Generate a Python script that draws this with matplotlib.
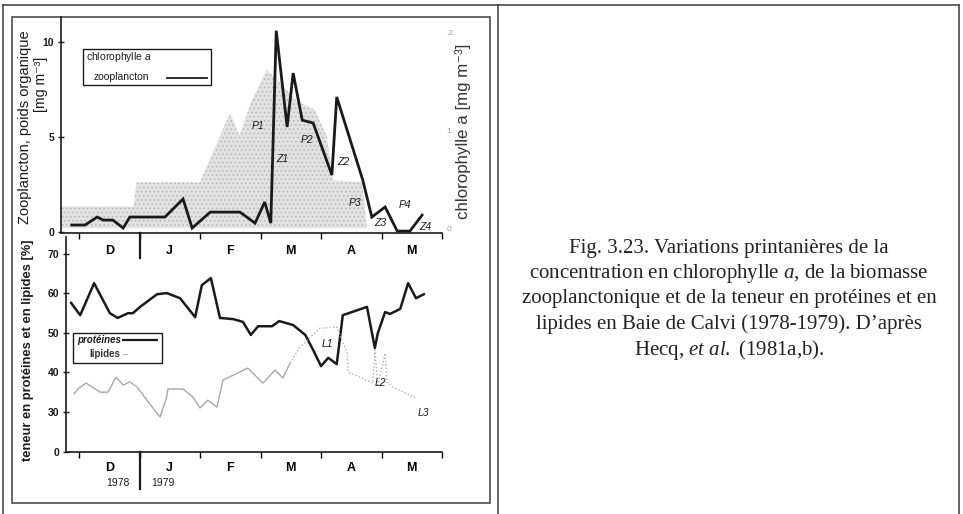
import numpy as np
import matplotlib
matplotlib.use("Agg")
import matplotlib.pyplot as plt
from matplotlib.lines import Line2D
from matplotlib.patches import Rectangle

plt.rcParams['font.family'] = ['Liberation Sans', 'DejaVu Sans']
plt.rcParams['mathtext.fontset'] = 'custom'
plt.rcParams['mathtext.rm'] = 'Liberation Serif'
plt.rcParams['mathtext.it'] = 'Liberation Serif:italic'
plt.rcParams['mathtext.sf'] = 'Liberation Sans:italic'
plt.rcParams['hatch.linewidth'] = 0.6

# time axis in months, 0 = 1 Dec 1978 ... 6 = 1 Jun 1979
months = ['D', 'J', 'F', 'M', 'A', 'M']
years = ['1978', '1979']

# zooplancton, poids organique [mg m-3]
zoo_t = [-0.12, 0.10, 0.30, 0.40, 0.56, 0.73, 0.84, 1.42, 1.72, 1.87, 2.17, 2.66,
         2.91, 3.07, 3.17, 3.26, 3.44, 3.54, 3.69, 3.87, 4.18, 4.26, 4.69, 4.84,
         5.06, 5.26, 5.47, 5.67]
zoo = [0.37, 0.37, 0.79, 0.63, 0.63, 0.21, 0.79, 0.79, 1.74, 0.21, 1.05, 1.05,
       0.47, 1.58, 0.47, 10.6, 5.53, 8.37, 5.89, 5.74, 3.00, 7.11, 2.74, 0.79,
       1.32, 0.05, 0.05, 0.89]

# chlorophylle a [mg m-3]
chl_t = [-0.30, 0.90, 0.95, 2.00, 2.30, 2.50, 2.65, 2.85, 3.10, 3.30, 3.60, 3.90,
         4.10, 4.20, 4.68, 4.76]
chl = [0.22, 0.22, 0.47, 0.47, 0.90, 1.18, 0.95, 1.30, 1.62, 1.50, 1.30, 1.21,
       0.93, 0.49, 0.47, 0.0]

# teneur en proteines [%]
prot_t = [-0.13, 0.02, 0.25, 0.51, 0.64, 0.81, 0.89, 1.01, 1.29, 1.45, 1.67, 1.92,
          2.03, 2.18, 2.33, 2.55, 2.71, 2.84, 2.96, 3.19, 3.31, 3.54, 3.74, 3.87,
          4.00, 4.12, 4.26, 4.36, 4.76, 4.89, 4.94, 5.06, 5.14, 5.31, 5.44, 5.57, 5.70]
prot = [57.5, 54.4, 62.5, 54.9, 53.7, 54.9, 54.9, 56.5, 59.7, 60.0, 58.7, 53.9,
        62.0, 63.8, 53.7, 53.4, 52.7, 49.4, 51.6, 51.6, 52.9, 51.9, 49.4, 45.6,
        41.5, 43.6, 42.0, 54.4, 56.5, 46.1, 49.9, 55.2, 54.7, 56.0, 62.5, 58.7, 59.7]

# teneur en lipides [%]
lip_t = [-0.08, 0.00, 0.12, 0.35, 0.48, 0.61, 0.73, 0.84, 0.96, 1.12, 1.34, 1.45,
         1.47, 1.72, 1.88, 2.00, 2.13, 2.28, 2.38, 2.55, 2.79, 3.04, 3.24, 3.37,
         3.49, 3.65, 3.98, 4.26, 4.43, 4.45, 4.60, 4.86, 4.89, 4.94, 5.06, 5.09,
         5.19, 5.39, 5.59]
lip = [34.5, 36.0, 37.2, 34.9, 34.9, 38.7, 36.7, 37.5, 36.2, 32.9, 28.6, 33.7,
       35.7, 35.7, 33.7, 30.9, 32.9, 31.1, 38.0, 39.2, 41.0, 37.2, 40.5, 38.5,
       42.3, 46.3, 51.1, 51.4, 44.8, 40.0, 39.0, 37.2, 45.6, 36.7, 44.8, 37.5,
       36.2, 34.7, 33.4]

top_labels = [('P1', 2.96, 5.58), ('Z1', 3.36, 3.84), ('P2', 3.77, 4.84),
              ('Z2', 4.36, 3.68), ('P3', 4.56, 1.53), ('Z3', 4.98, 0.47),
              ('P4', 5.39, 1.42), ('Z4', 5.72, 0.26)]
bot_labels = [('L1', 4.10, 47.1), ('L2', 4.98, 37.2), ('L3', 5.69, 29.6)]

W, H = 963, 514
fig = plt.figure(figsize=(W / 100, H / 100), dpi=100)
fig.patch.set_facecolor('white')


def fx(x):
    return x / W


def fy(y):
    return 1 - y / H


def axes_px(l, t, r, b):
    return fig.add_axes([l / W, 1 - b / H, (r - l) / W, (b - t) / H])


def month_of(x):
    return (x - 79) / 60.5


ink = '#1a1a1a'

# ---- top panel: zooplancton + chlorophylle
ax = axes_px(61, 17, 442, 233)
ax2 = ax.twinx()
ax2.fill_between(chl_t, 0, chl, facecolor='#e2e2e2', edgecolor='#b4b4b4',
                 hatch='....', linewidth=0)
ax2.set_ylim(-0.05, 2.16)
ax2.set_yticks([0, 1, 2], ['0', '1.', '.2.'], color='#9a9a9a', fontsize=6)
ax2.tick_params(axis='y', length=0, pad=3)
for s in ax2.spines.values():
    s.set_visible(False)

ax.set_zorder(ax2.get_zorder() + 1)
ax.patch.set_visible(False)
ax.plot(zoo_t, zoo, color=ink, lw=2.0, solid_joinstyle='miter')
ax.set_xlim(month_of(61), 6.0)
ax.set_ylim(-0.05, 11.32)
ax.set_yticks([0, 5, 10], ['0', '5', '10'], fontsize=7.5, fontweight='semibold')
ax.tick_params(axis='y', direction='inout', length=4, width=1, pad=3, colors=ink)
ax.set_xticks(range(7), [''] * 7)
ax.set_xticks(np.arange(6) + 0.5, months, minor=True, fontsize=9, fontweight='bold')
ax.tick_params(axis='x', which='major', direction='out', length=4, width=1)
ax.tick_params(axis='x', which='minor', length=0, pad=9)
for side in ['top', 'right']:
    ax.spines[side].set_visible(False)
for side in ['left', 'bottom']:
    ax.spines[side].set_linewidth(1.2)
    ax.spines[side].set_color(ink)
ax.axvline(1.0, ymin=-0.115, ymax=0, color=ink, lw=1.6, clip_on=False)
for lab, t, v in top_labels:
    ax.text(t, v, lab, fontsize=7.5, style='italic', ha='center', va='center', color=ink)

# legend top
fig.add_artist(Rectangle((fx(83), fy(85)), (211 - 83) / W, (85 - 49) / H,
                         transform=fig.transFigure, fill=False, lw=1.0, ec=ink))
fig.text(fx(86), fy(57), r'chlorophylle $\mathsf{a}$', fontsize=7.5, va='center', color=ink)
fig.text(fx(94), fy(77), 'zooplancton', fontsize=7.5, va='center', color=ink)
fig.add_artist(Line2D([fx(167), fx(207)], [fy(78), fy(78)], color=ink, lw=1.3))

fig.text(fx(25), fy(127), 'Zooplancton, poids organique', rotation=90, fontsize=10.5,
         ha='center', va='center', color=ink)
fig.text(fx(41), fy(84), '[mg m⁻³]', rotation=90, fontsize=10.2,
         ha='center', va='center', color=ink)
fig.text(fx(463), fy(131), 'chlorophylle a [mg m⁻³]', rotation=90, fontsize=12.2,
         ha='center', va='center', color='#333333')

# ---- bottom panel: proteines + lipides
bx = axes_px(66, 237, 442, 452)
bx.plot(prot_t, prot, color=ink, lw=1.8)
lt = np.array(lip_t)
lv = np.array(lip)
solid = lt <= 3.49
dotted = lt >= 3.49
bx.plot(lt[solid], lv[solid], color='#a8a8a8', lw=1.0)
bx.plot(lt[dotted], lv[dotted], color='#b0b0b0', lw=1.0, ls=(0, (1, 1.5)))
bx.set_xlim(month_of(66), 6.0)
bx.set_ylim(19.75, 74.2)
bx.set_yticks([19.75, 30, 40, 50, 60, 70], ['0', '30', '40', '50', '60', '70'],
              fontsize=7.5, fontweight='semibold')
bx.tick_params(axis='y', direction='inout', length=4, width=1, pad=3, colors=ink)
bx.set_xticks(range(7), [''] * 7)
bx.set_xticks(np.arange(6) + 0.5, months, minor=True, fontsize=9, fontweight='bold')
bx.tick_params(axis='x', which='major', direction='out', length=4, width=1)
bx.tick_params(axis='x', which='minor', length=0, pad=7)
for side in ['top', 'right']:
    bx.spines[side].set_visible(False)
for side in ['left', 'bottom']:
    bx.spines[side].set_linewidth(1.2)
    bx.spines[side].set_color(ink)
bx.axvline(1.0, ymin=-0.17, ymax=0, color=ink, lw=1.6, clip_on=False)
for lab, t, v in bot_labels:
    bx.text(t, v, lab, fontsize=7.5, style='italic', ha='center', va='center', color=ink)
bx.text(0.64, -0.145, years[0], transform=bx.get_xaxis_transform(), fontsize=7.5,
        ha='center', va='center', color=ink)
bx.text(1.38, -0.145, years[1], transform=bx.get_xaxis_transform(), fontsize=7.5,
        ha='center', va='center', color=ink)

# legend bottom
fig.add_artist(Rectangle((fx(73), fy(363)), (162 - 73) / W, (363 - 333) / H,
                         transform=fig.transFigure, fill=False, lw=1.0, ec=ink))
fig.text(fx(77), fy(340), 'protéines', fontsize=7, fontweight='semibold',
         style='italic', va='center', color=ink)
fig.add_artist(Line2D([fx(123), fx(157)], [fy(340), fy(340)], color=ink, lw=1.6))
fig.text(fx(89), fy(354), 'lipides', fontsize=7, fontweight='semibold',
         va='center', color='#333333')
fig.add_artist(Line2D([fx(123), fx(127)], [fy(354), fy(354)], color='#b0b0b0', lw=0.8))

fig.text(fx(28), fy(350), 'teneur en protéines et en lipides [%]', rotation=90,
         fontsize=9.3, fontweight='semibold', ha='center', va='center', color=ink)

# ---- frames
frame_kw = dict(transform=fig.transFigure, color='#3a3a3a', lw=1.1)
fig.add_artist(Line2D([fx(3), fx(959)], [fy(5), fy(5)], **frame_kw))
fig.add_artist(Line2D([fx(3), fx(3)], [fy(5), 0], **frame_kw))
fig.add_artist(Line2D([fx(959), fx(959)], [fy(5), 0], **frame_kw))
fig.add_artist(Line2D([fx(498), fx(498)], [fy(5), 0], **frame_kw))
fig.add_artist(Rectangle((fx(12), fy(503)), (490 - 12) / W, (503 - 17) / H,
                         transform=fig.transFigure, fill=False, lw=1.1, ec='#3a3a3a'))

# ---- caption
caption = ['Fig. 3.23. Variations printanières de la',
           'concentration en chlorophylle $a$, de la biomasse',
           'zooplanctonique et de la teneur en protéines et en',
           'lipides en Baie de Calvi (1978-1979). D’après',
           r'Hecq, $et\ al.$ (1981a,b).']
for i, line in enumerate(caption):
    fig.text(fx(729), fy(248 + 25.5 * i), line, fontsize=15, family='Liberation Serif',
             ha='center', va='center', color='#222222')

fig.savefig('out.png', dpi=100)
